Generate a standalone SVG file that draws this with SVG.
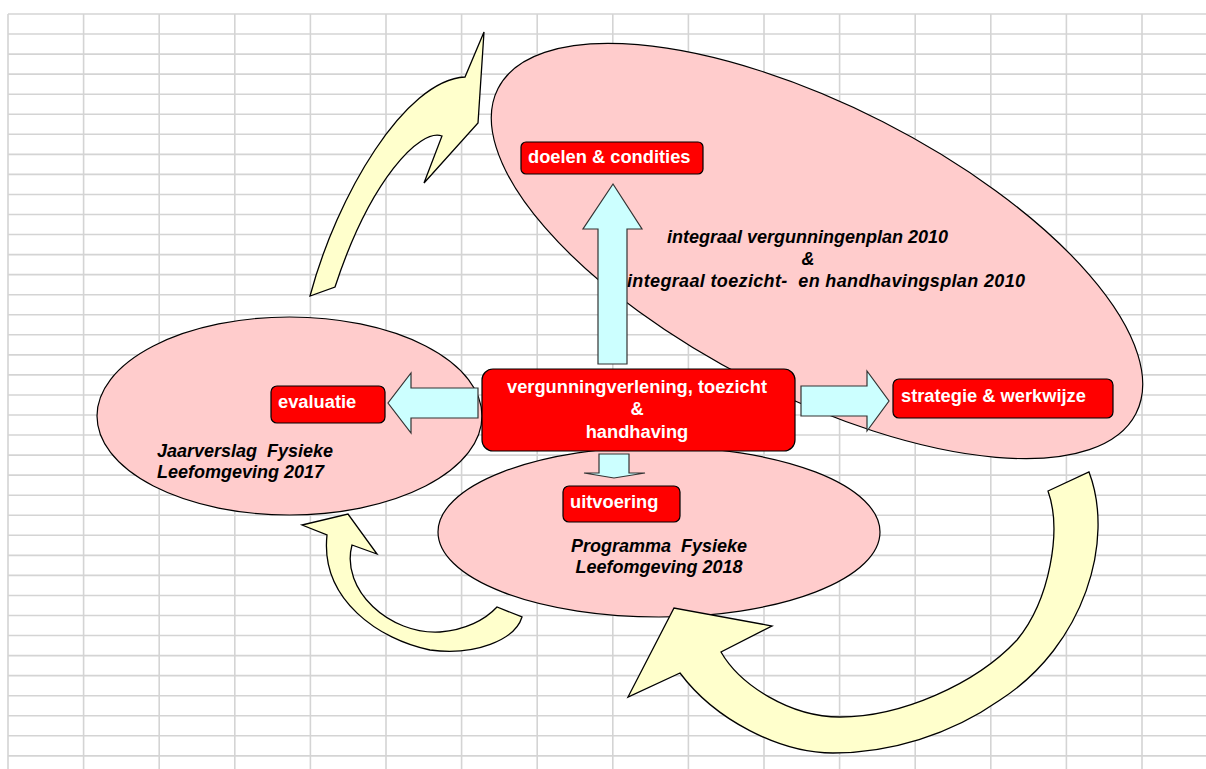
<svg xmlns="http://www.w3.org/2000/svg" width="1206" height="769" viewBox="0 0 1206 769">
<defs>
<style>
.grid line{stroke:#d4d4d4;stroke-width:1.6}
.ell{fill:#ffcccc;stroke:#000;stroke-width:1.2}
.box{fill:#ff0000;stroke:#000;stroke-width:1.2}
.lbl{font-family:"Liberation Sans",Arial,sans-serif;font-weight:bold;font-size:18.3px;fill:#fff}
.it{font-family:"Liberation Sans",Arial,sans-serif;font-weight:bold;font-style:italic;font-size:18px;fill:#000}
.cy{fill:#ccffff;stroke:#333;stroke-width:1.2}
.yl{fill:#ffffcc;stroke:#000;stroke-width:1.3;stroke-linejoin:miter}
</style>
</defs>
<rect width="1206" height="769" fill="#fff"/>
<g class="grid">
<line x1="8" y1="14" x2="8" y2="769"/><line x1="83.6" y1="14" x2="83.6" y2="769"/><line x1="159.2" y1="14" x2="159.2" y2="769"/><line x1="234.8" y1="14" x2="234.8" y2="769"/><line x1="310.4" y1="14" x2="310.4" y2="769"/><line x1="386" y1="14" x2="386" y2="769"/><line x1="461.6" y1="14" x2="461.6" y2="769"/><line x1="537.2" y1="14" x2="537.2" y2="769"/><line x1="612.8" y1="14" x2="612.8" y2="769"/><line x1="688.4" y1="14" x2="688.4" y2="769"/><line x1="764" y1="14" x2="764" y2="769"/><line x1="839.6" y1="14" x2="839.6" y2="769"/><line x1="915.2" y1="14" x2="915.2" y2="769"/><line x1="990.8" y1="14" x2="990.8" y2="769"/><line x1="1066.4" y1="14" x2="1066.4" y2="769"/><line x1="1142" y1="14" x2="1142" y2="769"/>
<line x1="8" y1="14" x2="1206" y2="14"/><line x1="8" y1="34.05" x2="1206" y2="34.05"/><line x1="8" y1="54.1" x2="1206" y2="54.1"/><line x1="8" y1="74.15" x2="1206" y2="74.15"/><line x1="8" y1="94.2" x2="1206" y2="94.2"/><line x1="8" y1="114.25" x2="1206" y2="114.25"/><line x1="8" y1="134.3" x2="1206" y2="134.3"/><line x1="8" y1="154.35" x2="1206" y2="154.35"/><line x1="8" y1="174.4" x2="1206" y2="174.4"/><line x1="8" y1="194.45" x2="1206" y2="194.45"/><line x1="8" y1="214.5" x2="1206" y2="214.5"/><line x1="8" y1="234.55" x2="1206" y2="234.55"/><line x1="8" y1="254.6" x2="1206" y2="254.6"/><line x1="8" y1="274.65" x2="1206" y2="274.65"/><line x1="8" y1="294.7" x2="1206" y2="294.7"/><line x1="8" y1="314.75" x2="1206" y2="314.75"/><line x1="8" y1="334.8" x2="1206" y2="334.8"/><line x1="8" y1="354.85" x2="1206" y2="354.85"/><line x1="8" y1="374.9" x2="1206" y2="374.9"/><line x1="8" y1="394.95" x2="1206" y2="394.95"/><line x1="8" y1="415" x2="1206" y2="415"/><line x1="8" y1="435.05" x2="1206" y2="435.05"/><line x1="8" y1="455.1" x2="1206" y2="455.1"/><line x1="8" y1="475.15" x2="1206" y2="475.15"/><line x1="8" y1="495.2" x2="1206" y2="495.2"/><line x1="8" y1="515.25" x2="1206" y2="515.25"/><line x1="8" y1="535.3" x2="1206" y2="535.3"/><line x1="8" y1="555.35" x2="1206" y2="555.35"/><line x1="8" y1="575.4" x2="1206" y2="575.4"/><line x1="8" y1="595.45" x2="1206" y2="595.45"/><line x1="8" y1="615.5" x2="1206" y2="615.5"/><line x1="8" y1="635.55" x2="1206" y2="635.55"/><line x1="8" y1="655.6" x2="1206" y2="655.6"/><line x1="8" y1="675.65" x2="1206" y2="675.65"/><line x1="8" y1="695.7" x2="1206" y2="695.7"/><line x1="8" y1="715.75" x2="1206" y2="715.75"/><line x1="8" y1="735.8" x2="1206" y2="735.8"/><line x1="8" y1="755.85" x2="1206" y2="755.85"/>
</g>
<g id="plan2010">
<ellipse class="ell" cx="817" cy="251" rx="358" ry="145" transform="rotate(27 817 251)"/>
<text class="it" x="667" y="243">integraal vergunningenplan 2010</text>
<text class="it" x="808" y="265" text-anchor="middle">&amp;</text>
<text class="it" x="627" y="287" xml:space="preserve" textLength="398" lengthAdjust="spacing">integraal toezicht-  en handhavingsplan 2010</text>
</g>
<g id="jaarverslag">
<ellipse class="ell" cx="289.5" cy="416" rx="192.5" ry="99"/>
<text class="it" x="157" y="457" xml:space="preserve">Jaarverslag  Fysieke</text>
<text class="it" x="157" y="478">Leefomgeving 2017</text>
</g>
<g id="programma">
<ellipse class="ell" cx="659" cy="532" rx="221" ry="85"/>
<text class="it" x="659" y="552" text-anchor="middle" xml:space="preserve">Programma  Fysieke</text>
<text class="it" x="659" y="573" text-anchor="middle">Leefomgeving 2018</text>
</g>
<g id="connectors">
<path class="cy" d="M598,364 L598,229 L583,229 L613,184 L642,229 L627,229 L627,364 Z"/>
<path class="cy" d="M478,388 L411,388 L411,373 L388,403 L411,433 L411,418 L478,418 Z"/>
<path class="cy" d="M801,386 L867,386 L867,371 L889,401 L867,431 L867,416 L801,416 Z"/>
<path class="cy" d="M599,454 L629,454 L629,473 L645,473 L614,478 L584,473 L599,473 Z"/>
<path class="yl" d="M310,296 C337,195 405,80 465,77 L484,32 L478,123 L424,183 L442,136 C420,128 370,180 335,287 Z"/>
<path class="yl" d="M1089,472 C1115,540 1085,645 1000,700 C950,735 890,753 833,753 C780,753 715,720 680,673 L628,697 L674,608 L772,626 L721,652 C740,685 790,717 840,717 C900,717 975,685 1017,640 C1050,600 1062,530 1048,491 Z"/>
<path class="yl" d="M522,617 C515,640 475,656 430,650 C380,640 320,600 327,535 L302,525 L348,514 L377,554 L352,545 C340,590 390,635 440,632 C465,630 485,620 497,607 Z"/>
</g>
<g id="center">
<rect class="box" x="482" y="369" width="313" height="82" rx="11"/>
<text class="lbl" x="637" y="393" text-anchor="middle">vergunningverlening, toezicht</text>
<text class="lbl" x="637" y="415" text-anchor="middle">&amp;</text>
<text class="lbl" x="637" y="438" text-anchor="middle">handhaving</text>
</g>
<g id="doelen">
<rect class="box" x="521" y="142" width="182" height="32" rx="5"/>
<text class="lbl" x="528" y="163">doelen &amp; condities</text>
</g>
<g id="strategie">
<rect class="box" x="893" y="379" width="220" height="39" rx="6"/>
<text class="lbl" x="901" y="402">strategie &amp; werkwijze</text>
</g>
<g id="evaluatie">
<rect class="box" x="271" y="386" width="114" height="37" rx="6"/>
<text class="lbl" x="278" y="408">evaluatie</text>
</g>
<g id="uitvoering">
<rect class="box" x="563" y="486" width="117" height="36" rx="6"/>
<text class="lbl" x="570" y="508">uitvoering</text>
</g>
</svg>
